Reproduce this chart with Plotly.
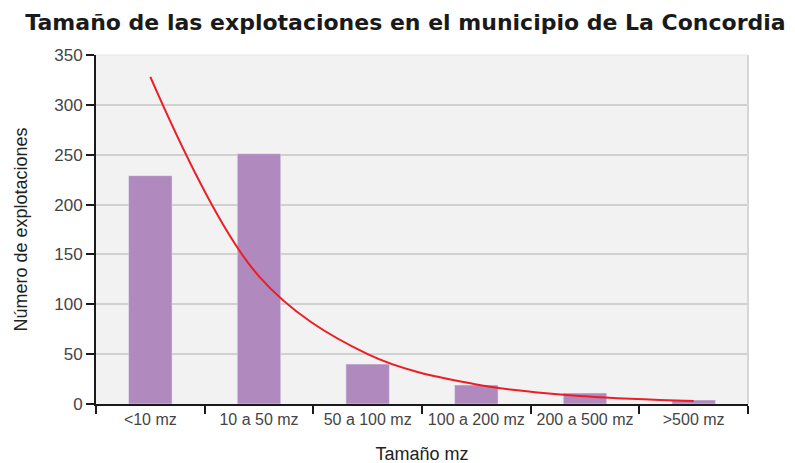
import plotly.graph_objects as go

categories = ["<10 mz", "10 a 50 mz", "50 a 100 mz", "100 a 200 mz", "200 a 500 mz", ">500 mz"]
explotaciones = [229, 251, 40, 19, 11, 4]
tendencia = [328, 128, 50, 19.6, 7.7, 3]

fig = go.Figure()
fig.add_trace(go.Bar(x=categories, y=explotaciones, marker_color="#b089be",
                     width=0.4, showlegend=False))
fig.add_trace(go.Scatter(x=categories, y=tendencia, mode="lines",
                         line=dict(color="#ee1c25", width=2, shape="spline"),
                         showlegend=False))

fig.update_layout(
    width=795, height=463,
    margin=dict(l=86, r=55, t=47, b=67),
    paper_bgcolor="white",
    plot_bgcolor="#f2f2f2",
    title=dict(text="<b>Tamaño de las explotaciones en el municipio de La Concordia</b>",
               x=0.5, xanchor="center", y=0.97, yanchor="middle",
               font=dict(family="DejaVu Sans", size=22, color="#1a1a1a")),
    font=dict(family="Liberation Sans Narrow, Liberation Sans", color="#444444"),
)
fig.update_xaxes(
    type="category", tickson="boundaries", ticks="outside", ticklen=8, tickwidth=2,
    tickcolor="#1a1a1a", showline=True, linecolor="#1a1a1a", linewidth=2,
    showgrid=False, tickfont=dict(size=16, color="#444444"), automargin=False,
    title=dict(text="Tamaño mz", font=dict(size=18, color="#222222"), standoff=20),
    range=[-0.5, 5.5], mirror=False,
)
fig.update_yaxes(
    range=[0, 350], dtick=50, ticks="outside", ticklen=8, tickwidth=2,
    tickcolor="#1a1a1a", showline=True, linecolor="#1a1a1a", linewidth=2,
    showgrid=True, gridcolor="#d0d0d0", gridwidth=1.5, zeroline=False,
    tickfont=dict(size=17, color="#444444"),
    title=dict(text="Número de explotaciones", font=dict(size=18, color="#222222"), standoff=22),
)
fig.add_shape(type="line", xref="paper", yref="paper", x0=1, x1=1, y0=0, y1=1,
              line=dict(color="#d6d6d6", width=2))
fig.add_shape(type="line", xref="paper", yref="paper", x0=0, x1=1, y0=1, y1=1,
              line=dict(color="#e4e4e4", width=1))

fig.write_html("out.html")
